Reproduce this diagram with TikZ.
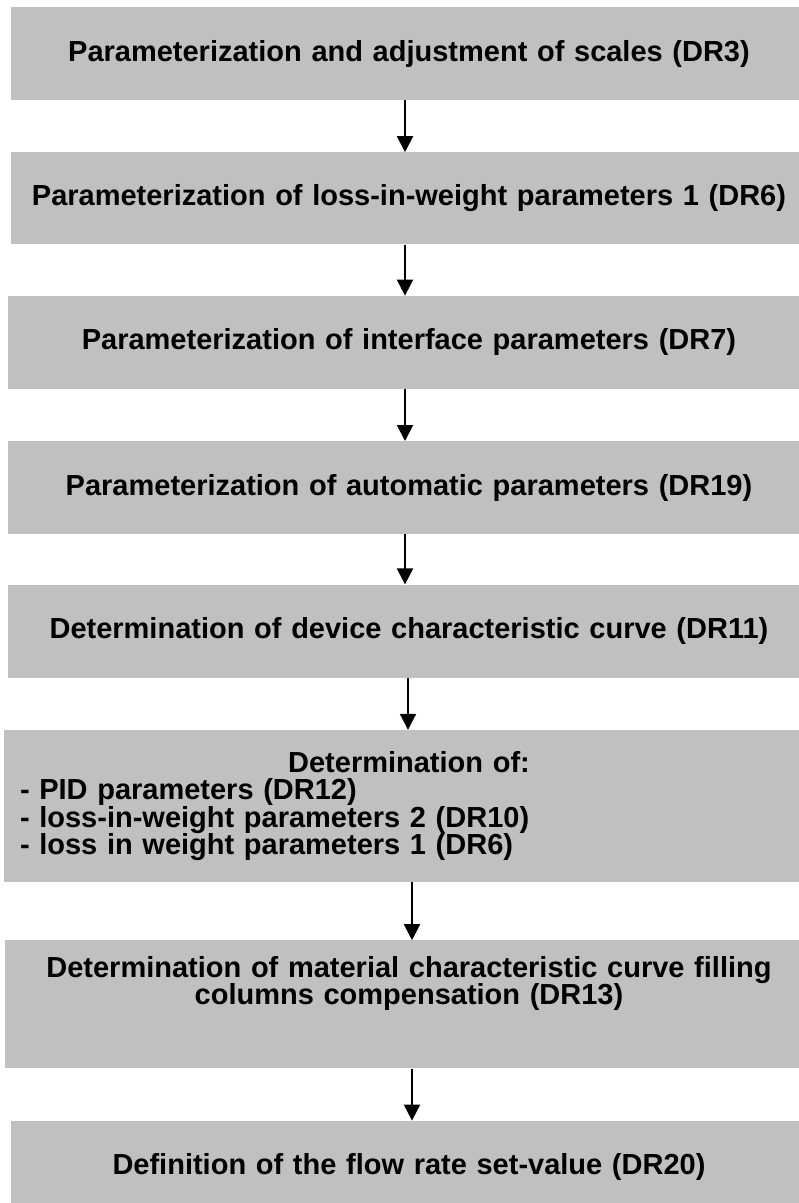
\documentclass[tikz,border=0pt]{standalone}
\usepackage{fontspec}
\setmainfont{Liberation Sans}
\usetikzlibrary{positioning,arrows.meta}
\definecolor{boxgray}{HTML}{C0C0C0}

\begin{document}
\begin{tikzpicture}[node distance=52pt,
    stepbox/.style={fill=boxgray, inner sep=0pt, minimum width=802pt, minimum height=93pt,
      text width=780pt, align=center, font=\bfseries\fontsize{29}{27.5}\selectfont},
    flow/.style={-{Triangle[length=16pt,width=16pt]}, line width=2pt}]
  \useasboundingbox (0,0) rectangle (799pt,-1203pt);
  \node[stepbox, minimum width=796pt] (dr3) at (409pt,-53.5pt)
    {Parameterization and adjustment of scales (DR3)};
  \node[stepbox, minimum width=796pt, minimum height=92pt, below=of dr3] (dr6)
    {Parameterization of loss-in-weight parameters 1 (DR6)};
  \node[stepbox, below=51pt of dr6] (dr7)
    {Parameterization of interface parameters (DR7)};
  \node[stepbox, below=of dr7] (dr19)
    {Parameterization of automatic parameters (DR19)};
  \node[stepbox, below=50pt of dr19] (dr11)
    {Determination of device characteristic curve (DR11)};
  \node[stepbox, minimum width=810pt, minimum height=152pt, text width=778pt, align=left,
    below=of dr11] (pid)
    {\makebox[\linewidth]{Determination of:}\\
     - PID parameters (DR12)\\
     - loss-in-weight parameters 2 (DR10)\\
     - loss in weight parameters 1 (DR6)\\[4pt]};
  \node[stepbox, minimum width=808pt, minimum height=128pt, below=58pt of pid] (dr13)
    {Determination of material characteristic curve filling\\
     columns compensation (DR13)\\[12pt] \strut};
  \node[stepbox, minimum width=796pt, below=of dr13] (dr20)
    {Definition of the flow rate set-value (DR20)};
  % arrows between the steps
  \draw[flow] ([xshift=-4pt]dr3.south) -- ([xshift=-4pt]dr6.north);
  \draw[flow] ([xshift=-4pt]dr6.south) -- ([xshift=-4pt]dr7.north);
  \draw[flow] ([xshift=-4pt]dr7.south) -- ([xshift=-4pt]dr19.north);
  \draw[flow] ([xshift=-4pt]dr19.south) -- ([xshift=-4pt]dr11.north);
  \draw[flow] ([xshift=-1pt]dr11.south) -- ([xshift=-1pt]pid.north);
  \draw[flow] ([xshift=3pt]pid.south) -- ([xshift=3pt]dr13.north);
  \draw[flow] ([xshift=3pt]dr13.south) -- ([xshift=3pt]dr20.north);
\end{tikzpicture}
\end{document}
